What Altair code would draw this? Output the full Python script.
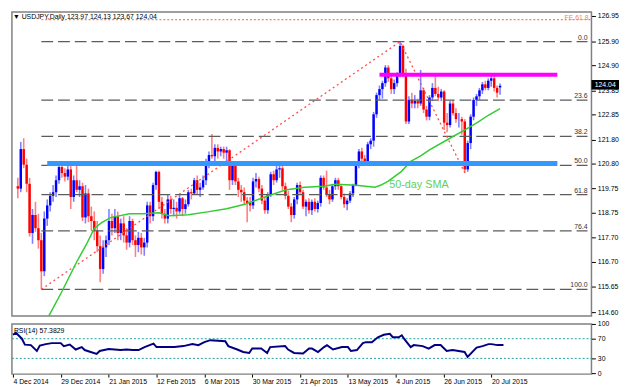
import altair as alt
import pandas as pd

# ---------------- data ----------------
opens = [119.85,119.75,121.40,120.75,119.95,117.90,118.65,118.10,117.60,116.30,
         118.50,119.05,119.45,119.60,120.10,120.65,120.40,120.25,120.55,119.40,
         120.10,119.70,119.85,118.55,119.55,118.60,118.40,118.00,117.35,116.40,
         117.30,117.60,118.40,118.10,118.60,117.90,118.30,117.80,117.50,118.40,
         117.60,117.40,117.70,117.30,117.50,119.05,118.60,119.90,120.45,119.20,
         118.70,118.50,119.30,118.90,118.95,118.80,119.35,118.90,119.10,119.60,
         119.55,120.10,119.70,119.80,120.10,120.85,121.15,121.10,121.45,121.30,
         121.40,121.25,121.35,120.10,120.70,120.05,119.70,119.60,119.25,119.15,
         119.05,120.05,120.15,119.75,119.25,118.85,119.50,120.35,120.10,120.55,
         120.60,119.85,119.45,119.00,118.65,119.30,119.90,119.60,119.00,119.20,
         118.85,119.20,118.90,119.15,120.20,119.80,119.50,119.30,119.85,120.10,
         119.85,119.40,119.10,119.25,119.55,119.90,120.75,121.30,121.00,120.90,
         121.60,121.75,122.85,123.65,123.90,124.15,124.80,124.35,123.90,124.15,
         124.50,125.70,124.55,122.55,123.45,123.30,123.40,123.30,123.85,123.05,
         122.75,123.55,123.95,123.70,123.55,123.80,122.50,122.40,123.30,122.90,
         122.65,122.65,122.55,120.55,121.65,122.75,123.45,123.60,123.85,124.10,
         123.95,124.25,124.35,123.95,123.97]
highs = [120.20,121.70,121.85,121.00,120.20,118.90,119.20,118.70,117.90,118.80,
         119.30,119.60,119.90,120.30,120.85,120.80,120.60,120.75,120.80,120.30,
         120.75,120.10,120.00,119.90,119.75,119.00,118.80,118.40,117.80,117.60,
         117.80,118.90,118.70,118.90,118.80,118.50,118.60,118.10,118.60,118.50,
         117.80,117.95,117.90,117.70,119.20,119.20,120.00,120.50,120.50,119.40,
         118.90,119.50,119.45,119.30,119.20,119.50,119.40,119.30,119.70,119.75,
         120.20,120.30,120.00,120.30,121.00,121.30,122.03,121.60,121.60,121.50,
         121.50,121.50,121.40,120.90,120.80,120.20,119.90,119.80,119.40,119.40,
         120.20,120.40,120.25,119.90,119.40,119.60,120.45,120.50,120.70,120.70,
         120.90,120.00,119.65,119.15,119.40,120.00,120.05,119.70,119.30,119.35,
         119.30,119.35,119.25,120.30,120.30,120.50,119.70,119.95,120.20,120.20,
         119.95,119.55,119.35,119.65,119.95,120.85,121.40,121.45,121.15,121.70,
         121.85,122.95,123.75,124.05,124.25,124.90,124.90,124.50,124.30,124.60,
         125.88,125.75,124.75,123.60,123.75,123.65,123.50,124.70,123.95,123.20,
         123.65,124.15,124.45,124.00,123.90,123.85,122.90,123.40,123.45,123.10,
         122.90,122.75,122.65,121.75,122.85,123.55,123.70,123.95,124.20,124.25,
         124.35,124.45,124.45,124.05,124.13]
lows = [119.35,119.60,120.60,119.60,117.75,117.45,117.95,117.25,115.55,116.10,
        118.20,118.80,119.20,119.40,119.95,120.20,120.05,120.10,118.90,119.20,
        119.60,119.40,118.40,118.30,118.35,118.00,117.60,117.10,115.85,116.20,
        116.90,117.40,117.80,117.90,117.60,117.60,117.50,117.20,117.30,117.40,
        116.90,117.10,117.00,116.95,117.30,118.30,118.40,119.70,118.90,118.50,
        118.30,118.30,118.70,118.60,118.50,118.70,118.60,118.70,119.00,119.30,
        119.50,119.50,119.40,119.70,119.90,120.60,121.00,120.90,121.00,121.10,
        121.00,120.90,119.70,119.90,119.90,119.40,119.20,119.10,118.35,118.80,
        118.90,119.80,119.60,119.10,118.70,118.70,119.40,119.90,120.00,120.20,
        119.70,119.30,118.90,118.35,118.50,119.10,119.50,118.90,118.60,118.70,
        118.65,118.80,118.75,119.00,119.70,119.40,119.10,119.20,119.70,119.70,
        119.30,118.95,118.85,119.15,119.40,119.85,120.60,120.90,120.80,120.80,
        121.40,121.50,122.70,123.45,123.50,124.00,124.20,123.70,123.70,124.00,
        124.40,124.40,122.45,122.45,123.10,123.10,123.10,123.20,122.90,122.60,
        122.60,123.40,123.60,123.40,123.40,122.20,122.10,122.30,122.80,122.50,
        122.30,122.00,120.40,120.45,121.40,122.60,123.20,123.45,123.70,123.85,
        123.85,124.00,123.80,123.55,123.67]
closes = [119.75,121.40,120.75,119.95,117.90,118.65,118.10,117.60,116.30,118.50,
          119.05,119.45,119.60,120.10,120.65,120.40,120.25,120.55,119.40,120.10,
          119.70,119.85,118.55,119.55,118.60,118.40,118.00,117.35,116.40,117.30,
          117.60,118.40,118.10,118.60,117.90,118.30,117.80,117.50,118.40,117.60,
          117.40,117.70,117.30,117.50,119.05,118.60,119.90,120.45,119.20,118.70,
          118.50,119.30,118.90,118.95,118.80,119.35,118.90,119.10,119.60,119.55,
          120.10,119.70,119.80,120.10,120.85,121.15,121.10,121.45,121.30,121.40,
          121.25,121.35,120.10,120.70,120.05,119.70,119.60,119.25,119.15,119.05,
          120.05,120.15,119.75,119.25,118.85,119.50,120.35,120.10,120.55,120.60,
          119.85,119.45,119.00,118.65,119.30,119.90,119.60,119.00,119.20,118.85,
          119.20,118.90,119.15,120.20,119.80,119.50,119.30,119.85,120.10,119.85,
          119.40,119.10,119.25,119.55,119.90,120.75,121.30,121.00,120.90,121.60,
          121.75,122.85,123.65,123.90,124.15,124.80,124.35,123.90,124.15,124.50,
          125.70,124.55,122.55,123.45,123.30,123.40,123.30,123.85,123.05,122.75,
          123.55,123.95,123.70,123.55,123.80,122.50,122.40,123.30,122.90,122.65,
          122.65,122.55,120.55,121.65,122.75,123.45,123.60,123.85,124.10,123.95,
          124.25,124.35,123.95,123.75,124.04]

sma_bars = [10.5, 15, 20, 23.5, 26, 28.5, 31.5, 38, 42.5, 48, 51.5, 58, 64.5, 71,
            77.5, 84, 91, 97.5, 104, 108, 115, 121.5, 123.5, 126, 130.5, 133.5,
            137, 140, 146.5, 152.5, 156.5, 160, 164]
sma_vals = [114.43, 115.46, 116.69, 117.47, 118.09, 118.33, 118.54, 118.70, 118.70,
            118.74, 118.62, 118.66, 118.78, 118.91, 119.11, 119.40, 119.69, 119.81,
            119.85, 119.93, 119.89, 119.81, 119.90, 120.06, 120.47, 120.88, 121.12,
            121.37, 121.82, 122.23, 122.52, 122.81, 123.09]

rsi_bars = [0, 1, 3, 4, 6, 8, 9, 11, 13, 16, 17, 19, 21, 23, 24, 26, 28, 29, 32, 34,
            36, 38, 40, 42, 44, 47, 48, 51, 54, 57, 60, 62, 64, 66, 71, 72, 75, 77,
            79, 80, 83, 85, 86, 91, 92, 94, 97, 99, 100, 102, 104, 105, 107, 110,
            112, 113, 115, 117, 118, 120, 122, 124, 126, 127, 129, 130, 131, 133,
            134, 137, 139, 141, 143, 145, 147, 149, 151, 152, 155, 157, 159, 160,
            162, 164]
rsi_vals = [78, 82, 70, 58, 57, 45, 56, 59, 61, 61, 55, 58, 48, 53, 47, 43, 39, 45,
            49, 48, 47, 48, 47, 47, 53, 60, 53, 53, 53, 55, 59, 57, 63, 67, 65, 55,
            48, 43, 41, 50, 50, 41, 53, 55, 48, 41, 40, 50, 50, 43, 53, 57, 48, 53,
            53, 45, 47, 61, 63, 63, 73, 78, 80, 73, 73, 77, 68, 53, 57, 55, 50, 57,
            57, 45, 47, 45, 43, 33, 52, 55, 59, 59, 57, 57.4]

date_labels = ["4 Dec 2014", "29 Dec 2014", "21 Jan 2015", "12 Feb 2015", "6 Mar 2015",
               "30 Mar 2015", "21 Apr 2015", "13 May 2015", "4 Jun 2015", "26 Jun 2015",
               "20 Jul 2015"]
date_bars = [0, 16, 32, 48, 64, 80, 96, 112, 128, 144, 160]

price_ticks = [126.95, 125.90, 124.90, 123.85, 122.85, 121.80, 120.80, 119.75,
               118.75, 117.70, 116.70, 115.65, 114.60]
rsi_ticks = [0, 30, 70, 100]

fib_levels = [125.88, 123.44, 121.93, 120.72, 119.50, 117.99, 115.55]
fib_names = ["0.0", "23.6", "38.2", "50.0", "61.8", "76.4", "100.0"]
fe_level = 126.80
zig_bars = [8, 130, 152]
zig_vals = [115.55, 125.88, 120.41]
support_level = 120.80
support_bars = [10, 183.5]
resist_level = 124.50
resist_bars = [123, 183.5]
last_price = 124.04

# ---------------- layout ----------------
W = 589
H_MAIN = 309
H_RSI = 51
FONT = "Liberation Sans"

xscale = alt.Scale(domain=[-0.33, 193.42], nice=False, zero=False)
pscale = alt.Scale(domain=[114.435, 127.114], nice=False, zero=False)
rscale = alt.Scale(domain=[-2, 100], nice=False, zero=False)

cdf = pd.DataFrame({"i": list(range(len(closes))), "o": opens, "h": highs,
                    "l": lows, "c": closes})
cdf["dir"] = ["up" if c >= o else "down" for o, c in zip(opens, closes)]
color = alt.Color("dir:N", scale=alt.Scale(domain=["up", "down"],
                                            range=["#0000FF", "#FF0000"]), legend=None)

paxis = alt.Axis(orient="right", values=price_ticks, format=".2f", tickSize=4,
                 labelFontSize=7, labelFont=FONT, labelColor="#000", tickColor="#000",
                 domain=False, grid=False, title=None, labelPadding=2,
                 labelOverlap=False, labelBound=False)
raxis = alt.Axis(orient="right", values=rsi_ticks, tickSize=4, labelFontSize=7, labelFont=FONT,
                 labelColor="#000", tickColor="#000", domain=False, grid=False, title=None,
                 labelPadding=2, labelOverlap=False, labelBound=False)
label_expr = "[" + ",".join(f"'{d}'" for d in date_labels) + "][round(datum.value/16)]"
xaxis = alt.Axis(values=date_bars, labelExpr=label_expr, labelAlign="left", labelFontSize=7,
                 labelFont=FONT, labelColor="#000", tickSize=3, tickColor="#000",
                 labelPadding=1, domain=False, grid=False, title=None, labelFlush=False,
                 labelOverlap=False, labelBound=False)

X = lambda f: alt.X(f, scale=xscale, axis=None, title=None)
Y = lambda f: alt.Y(f, scale=pscale, axis=paxis, title=None)
XR = lambda f: alt.X(f, scale=xscale, axis=xaxis, title=None)
YR = lambda f: alt.Y(f, scale=rscale, axis=raxis, title=None)

wicks = alt.Chart(cdf).mark_rule(strokeWidth=1.6, opacity=0.5).encode(
    x=X("i:Q"), y=Y("l:Q"), y2="h:Q", color=color)
bodies = alt.Chart(cdf).mark_bar(size=2.5).encode(
    x=X("i:Q"), y=Y("o:Q"), y2="c:Q", color=color)

fdf = pd.DataFrame({"p": fib_levels, "name": fib_names, "start": [8] * len(fib_levels)})
fib_lines = alt.Chart(fdf).mark_rule(strokeDash=[12, 5], color="#5c5c5c", strokeWidth=1.4).encode(
    x=X("start:Q"), x2=alt.value(585), y=Y("p:Q"))
fib_text = alt.Chart(fdf).mark_text(align="right", baseline="alphabetic", dy=-2,
                                    fontSize=7, font=FONT, color="#333").encode(
    x=alt.value(585), y=Y("p:Q"), text="name:N")

fedf = pd.DataFrame({"p": [fe_level], "start": [8], "name": ["FE 61.8"]})
fe_line = alt.Chart(fedf).mark_rule(strokeDash=[2, 2], color="#FF7F50", strokeWidth=1.2).encode(
    x=X("start:Q"), x2=alt.value(W), y=Y("p:Q"))
fe_text = alt.Chart(fedf).mark_text(align="right", baseline="middle", dy=-2, fontSize=7,
                                   font=FONT, color="#FF7F50").encode(
    x=alt.value(586), y=Y("p:Q"), text="name:N")

zdf = pd.DataFrame({"i": zig_bars, "p": zig_vals})
zig = alt.Chart(zdf).mark_line(strokeDash=[2, 3], color="#FF4a4a", strokeWidth=1.3).encode(
    x=X("i:Q"), y=Y("p:Q"))

sdf = pd.DataFrame({"a": [support_bars[0]], "b": [support_bars[1]], "p": [support_level]})
support = alt.Chart(sdf).mark_rule(color="#3399FF", strokeWidth=5).encode(
    x=X("a:Q"), x2="b:Q", y=Y("p:Q"))
rdf = pd.DataFrame({"a": [resist_bars[0]], "b": [resist_bars[1]], "p": [resist_level]})
resist = alt.Chart(rdf).mark_rule(color="#FF00FF", strokeWidth=4).encode(
    x=X("a:Q"), x2="b:Q", y=Y("p:Q"))

smadf = pd.DataFrame({"i": sma_bars, "p": sma_vals})
sma = alt.Chart(smadf).mark_line(color="#33CC33", strokeWidth=1.5, clip=True).encode(
    x=X("i:Q"), y=Y("p:Q"))
sma_lbl = alt.Chart(pd.DataFrame({"i": [126.3], "p": [119.9], "t": ["50-day SMA"]})).mark_text(
    align="left", baseline="middle", fontSize=11, font=FONT, color="#5ED05E").encode(
    x=X("i:Q"), y=Y("p:Q"), text="t:N")

title = alt.Chart(pd.DataFrame({"t": ["\u25BC USDJPY,Daily  123.97 124.13 123.67 124.04"]})).mark_text(
    align="left", baseline="alphabetic", fontSize=7, font=FONT, color="#000").encode(
    x=alt.value(1), y=alt.value(7), text="t:N")

bdf = pd.DataFrame({"top": [last_price + 0.24], "bot": [last_price - 0.16],
                    "p": [last_price + 0.04], "t": [f"{last_price:.2f}"]})
box = alt.Chart(bdf).mark_rect(color="#000").encode(
    x=alt.value(589), x2=alt.value(617), y=Y("top:Q"), y2="bot:Q")
box_t = alt.Chart(bdf).mark_text(align="center", baseline="middle", fontSize=7, font=FONT,
                                 color="#fff").encode(
    x=alt.value(603), y=Y("p:Q"), text="t:N")

main = alt.layer(wicks, bodies, fib_lines, fe_line, zig, sma, support, resist,
                 fib_text, fe_text, sma_lbl, title, box, box_t).properties(
    width=W, height=H_MAIN)

# ---------------- RSI panel ----------------
rsidf = pd.DataFrame({"i": rsi_bars, "r": rsi_vals})
levdf = pd.DataFrame({"r": [30, 70]})
levels = alt.Chart(levdf).mark_rule(strokeDash=[2, 2], color="#20A0A0", strokeWidth=1).encode(
    x=alt.value(0), x2=alt.value(W), y=YR("r:Q"))
rsi_line = alt.Chart(rsidf).mark_line(color="#000080", strokeWidth=2).encode(
    x=XR("i:Q"), y=YR("r:Q"))
rsi_lbl = alt.Chart(pd.DataFrame({"t": ["RSI(14) 57.3829"]})).mark_text(
    align="left", baseline="middle", fontSize=7, font=FONT, color="#000").encode(
    x=alt.value(2), y=alt.value(7), text="t:N")

rsi = alt.layer(levels, rsi_line, rsi_lbl).properties(width=W, height=H_RSI)

chart = alt.vconcat(main, rsi, spacing=2).properties(
    padding={"left": 0, "top": 0, "right": 0, "bottom": 0},
    background="#ffffff").configure_view(stroke="#808080", strokeWidth=1.5)

chart.save("out.html", embed_options={"renderer": "svg", "actions": False})
